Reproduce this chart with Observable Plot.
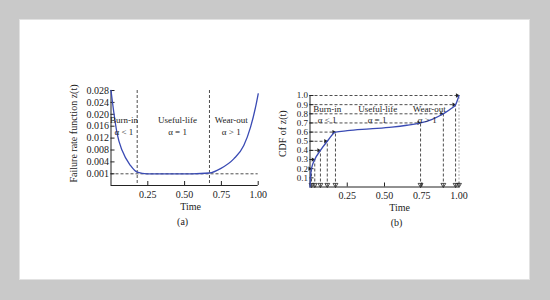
<!DOCTYPE html>
<html><head><meta charset="utf-8">
<script src="https://cdn.jsdelivr.net/npm/d3@7"></script>
<script src="https://cdn.jsdelivr.net/npm/@observablehq/plot@0.6"></script>
<style>
body{margin:0;width:550px;height:300px;background:#c9c9c9;overflow:hidden;font-family:"Liberation Serif",serif}
#panel{position:absolute;left:20px;top:20px;width:509px;height:259px;background:#fff;box-shadow:0 0 0 1px #e2e2e2}
#a,#b{position:absolute;top:80px}
#a{left:40px}
#b{left:250px}
</style></head><body>
<div id="panel"></div><div id="a"></div><div id="b"></div>
<script>
// (a) failure rate (bathtub) curve
const rateTime  = [0, 0.019, 0.042, 0.076, 0.132, 0.178, 0.246, 0.40, 0.55, 0.669, 0.744, 0.834, 0.902, 0.948, 0.982, 1.0];
const rateValue = [0.028, 0.0207, 0.0134, 0.0078, 0.0031, 0.0014, 0.001, 0.001, 0.001, 0.0012, 0.0023, 0.005, 0.0095, 0.0157, 0.0224, 0.0269];
const rateTicks = [0.001, 0.004, 0.008, 0.012, 0.016, 0.020, 0.024, 0.028];
const timeTicks = [0.25, 0.50, 0.75, 1.00];
const phaseBounds = [0.178, 0.669];
const phaseBaseline = [0.001];
const phaseNames = ["Burn-in", "Useful-life", "Wear-out"];
const phaseShape = ["α < 1", "α = 1", "α > 1"];
const phaseNameXA = [0.088, 0.452, 0.817];
const phaseNameYA = 0.018;
const phaseShapeYA = 0.014;

// (b) CDF curve
const cdfTime  = [0, 0.003, 0.010, 0.032, 0.070, 0.116, 0.171, 0.25, 0.40, 0.55, 0.65, 0.742, 0.82, 0.895, 0.95, 0.977, 1.0];
const cdfValue = [0, 0.10, 0.20, 0.30, 0.40, 0.50, 0.60, 0.615, 0.635, 0.655, 0.675, 0.70, 0.74, 0.80, 0.86, 0.90, 1.0];
const cdfTicks = [0.1, 0.2, 0.3, 0.4, 0.5, 0.6, 0.7, 0.8, 0.9, 1.0];
const guideTime  = [0.010, 0.032, 0.070, 0.116, 0.171, 0.742, 0.895, 0.977, 1.0];
const guideValue = [0.2, 0.3, 0.4, 0.5, 0.6, 0.7, 0.8, 0.9, 1.0];
const phaseNameXB = [0.115, 0.455, 0.80];
const phaseShapeXB = [0.115, 0.45, 0.787];
const phaseNameYB = 0.855;
const phaseShapeYB = 0.734;

const font = '"Liberation Serif", "Times New Roman", serif';
const ink = "#222";
const blue = "#3a4bb4";
const dash = {stroke: "#222", strokeDasharray: "3,2", strokeWidth: 0.8};
const title = {textAnchor: "middle", lineAnchor: "middle", fontSize: 10, fill: ink};

const rate = rateTime.map((t, i) => ({t, z: rateValue[i]}));
const cdf = cdfTime.map((t, i) => ({t, p: cdfValue[i]}));
const guides = guideTime.map((t, i) => ({t, p: guideValue[i]}));

const plotA = Plot.plot({
  width: 230, height: 150,
  marginLeft: 70.5, marginRight: 12.3, marginTop: 10, marginBottom: 45,
  style: {fontFamily: font, fontSize: "10px", color: ink, background: "transparent", overflow: "visible"},
  x: {domain: [0, 1]},
  y: {type: "linear", domain: [0, 0.001, 0.004, 0.028], range: [105, 93.3, 81.4, 10]},
  marks: [
    Plot.ruleY(phaseBaseline, dash),
    Plot.ruleX(phaseBounds, dash),
    Plot.axisX({ticks: timeTicks, tickFormat: ".2f", tickSize: -4, tickPadding: 9, label: null}),
    Plot.axisY({ticks: rateTicks, tickFormat: ".3f", tickSize: -4, tickPadding: 6, label: null}),
    Plot.ruleX([0], {stroke: ink}),
    Plot.ruleY([0], {stroke: ink}),
    Plot.line(rate, {x: "t", y: "z", stroke: blue, strokeWidth: 1.3, curve: "monotone-x"}),
    Plot.text(phaseNames, {x: (d, i) => phaseNameXA[i], y: () => phaseNameYA, text: d => d, fontSize: 9, fill: ink}),
    Plot.text(phaseShape, {x: (d, i) => phaseNameXA[i], y: () => phaseShapeYA, text: d => d, fontSize: 9, fill: ink}),
    Plot.text(["Failure rate function z(t)"], {frameAnchor: "left", rotate: -90, dx: -37, dy: -4.5, ...title}),
    Plot.text(["Time"], {frameAnchor: "bottom", dx: 6, dy: 21, ...title}),
    Plot.text(["(a)"], {frameAnchor: "bottom", dx: -2, dy: 36.7, ...title})
  ]
});
document.getElementById("a").append(plotA);

const plotB = Plot.plot({
  width: 230, height: 150,
  marginLeft: 59.5, marginRight: 21.5, marginTop: 15, marginBottom: 43.5,
  style: {fontFamily: font, fontSize: "10px", color: ink, background: "transparent", overflow: "visible"},
  x: {domain: [0, 1]},
  y: {domain: [0, 1]},
  marks: [
    Plot.ruleY(guides, {y: "p", x1: () => 0, x2: "t", ...dash}),
    Plot.ruleX(guides.filter(d => d.t < 1), {x: "t", y1: () => 0, y2: "p", ...dash}),
    Plot.ruleX(guides.filter(d => d.t >= 1), {x: "t", y1: () => 0, y2: "p", stroke: "#aaa", strokeDasharray: "2,1.5", strokeWidth: 1}),
    Plot.dot(guides, {x: "t", y: () => 0, symbol: "triangle", rotate: 180, r: 1.8, dy: -2.2, fill: "none", stroke: ink, strokeWidth: 0.8}),
    Plot.dot(guides, {x: "t", y: "p", symbol: "triangle", rotate: 90, r: 1.6, dx: -1.8, fill: ink, stroke: "none"}),
    Plot.axisX({ticks: timeTicks, tickFormat: ".2f", tickSize: -4, tickPadding: 9, label: null}),
    Plot.axisY({ticks: cdfTicks, tickFormat: ".1f", tickSize: -4, tickPadding: 6, label: null, fontSize: 9}),
    Plot.ruleX([0], {stroke: ink}),
    Plot.ruleY([0], {stroke: ink}),
    Plot.line(cdf, {x: "t", y: "p", stroke: blue, strokeWidth: 1.3, curve: "monotone-x"}),
    Plot.text(phaseNames, {x: (d, i) => phaseNameXB[i], y: () => phaseNameYB, text: d => d, fontSize: 9, fill: ink}),
    Plot.text(phaseShape, {x: (d, i) => phaseShapeXB[i], y: () => phaseShapeYB, text: d => d, fontSize: 9, fill: ink}),
    Plot.text(["CDF of z(t)"], {frameAnchor: "left", rotate: -90, dx: -27.5, dy: -7.5, ...title}),
    Plot.text(["Time"], {frameAnchor: "bottom", dx: 15, dy: 20.5, ...title}),
    Plot.text(["(b)"], {frameAnchor: "bottom", dx: 12, dy: 35.5, ...title})
  ]
});
document.getElementById("b").append(plotB);
</script>
</body></html>
